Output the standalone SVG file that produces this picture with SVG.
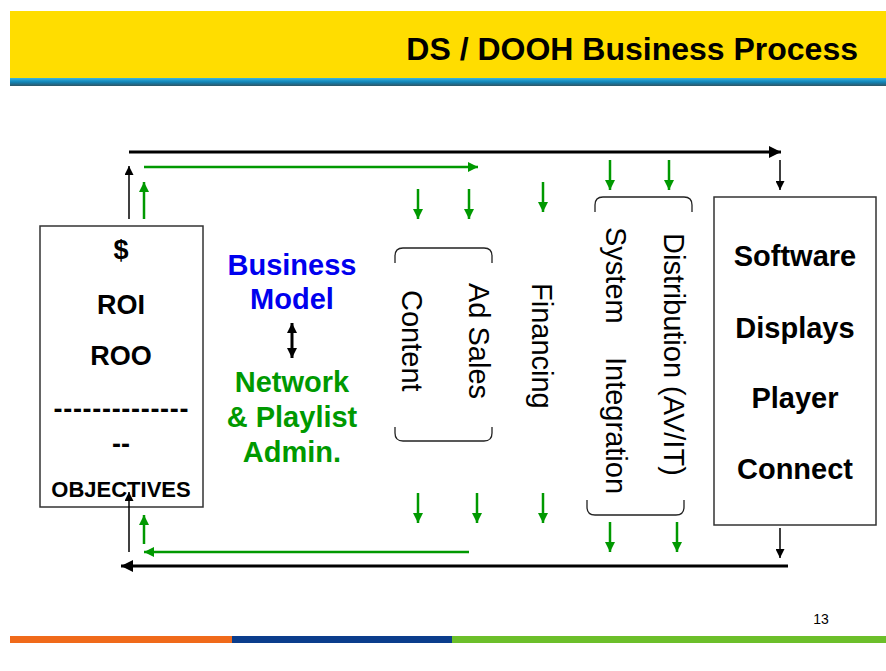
<svg xmlns="http://www.w3.org/2000/svg" width="886" height="671" viewBox="0 0 886 671">
  <defs>
    <linearGradient id="band" x1="0" y1="0" x2="0" y2="1">
      <stop offset="0" stop-color="#3bb4e0"/>
      <stop offset="0.5" stop-color="#1185b8"/>
      <stop offset="1" stop-color="#2f5666"/>
    </linearGradient>
    <marker id="hBlack" viewBox="0 0 10 10" refX="10" refY="5" markerWidth="4" markerHeight="4" orient="auto" markerUnits="strokeWidth">
      <path d="M0,0 L10,5 L0,10 z" fill="#000"/>
    </marker>
    <marker id="hThin" viewBox="0 0 10 10" refX="10" refY="5" markerWidth="6" markerHeight="6" orient="auto" markerUnits="strokeWidth">
      <path d="M0,0 L10,5 L0,10 z" fill="#000"/>
    </marker>
    <marker id="hGreen" viewBox="0 0 10 10" refX="10" refY="5" markerWidth="4" markerHeight="4" orient="auto" markerUnits="strokeWidth">
      <path d="M0,0 L10,5 L0,10 z" fill="#009900"/>
    </marker>
    <marker id="hDbl" viewBox="0 0 10 10" refX="10" refY="5" markerWidth="3.4" markerHeight="3.4" orient="auto-start-reverse" markerUnits="strokeWidth">
      <path d="M0,0 L10,5 L0,10 z" fill="#000"/>
    </marker>
  </defs>
  <style>
    .box { fill: #fff; stroke: #333; stroke-width: 1.5; }
    .brk { fill: none; stroke: #222; stroke-width: 1.3; }
    .lblk { font-family: "Liberation Sans", Arial, sans-serif; font-weight: bold; fill: #000; text-anchor: middle; }
    .rot { font-family: "Liberation Sans", Arial, sans-serif; font-size: 29px; fill: #000; }
    .mid { font-family: "Liberation Sans", Arial, sans-serif; font-weight: bold; font-size: 29px; text-anchor: middle; }
    .blk { stroke: #000; fill: none; }
    .grn { stroke: #009900; fill: none; }
  </style>

  <rect width="886" height="671" fill="#fff"/>

  <!-- header band -->
  <g id="header">
    <rect x="10" y="11" width="876" height="67" fill="#ffdd00"/>
    <rect x="10" y="78" width="876" height="8" fill="url(#band)"/>
    <text x="858" y="60" text-anchor="end" font-family="'Liberation Sans', Arial, sans-serif" font-weight="bold" font-size="32" fill="#000">DS / DOOH Business Process</text>
  </g>

  <!-- footer -->
  <g id="footer">
    <rect x="10" y="636" width="222" height="7" fill="#f06a1a"/>
    <rect x="232" y="636" width="220" height="7" fill="#0b3d8c"/>
    <rect x="452" y="636" width="434" height="7" fill="#6cbf2a"/>
    <text x="821" y="624" text-anchor="middle" font-family="'Liberation Sans', Arial, sans-serif" font-size="14" fill="#000">13</text>
  </g>

  <!-- objectives box -->
  <g id="objectives">
    <rect class="box" x="40" y="226" width="163" height="281"/>
    <text class="lblk" x="121" y="259" font-size="27">$</text>
    <text class="lblk" x="121" y="314" font-size="27">ROI</text>
    <text class="lblk" x="121" y="365" font-size="27">ROO</text>
    <text class="lblk" x="121" y="418" font-size="27" textLength="135" lengthAdjust="spacing">--------------</text>
    <text class="lblk" x="121" y="453" font-size="27">--</text>
    <text class="lblk" x="121" y="497" font-size="22">OBJECTIVES</text>
  </g>

  <!-- business model / network admin -->
  <g id="business-model">
    <text class="mid" x="292" y="275" fill="#0000ee">Business</text>
    <text class="mid" x="292" y="309" fill="#0000ee">Model</text>
    <line x1="292" y1="323" x2="292" y2="358" stroke="#000" stroke-width="3" marker-start="url(#hDbl)" marker-end="url(#hDbl)"/>
    <text class="mid" x="292" y="392" fill="#009900">Network</text>
    <text class="mid" x="292" y="427" fill="#009900">&amp; Playlist</text>
    <text class="mid" x="292" y="462" fill="#009900">Admin.</text>
  </g>

  <!-- content / ad sales -->
  <g id="content-adsales">
    <path class="brk" d="M395,263 L395,256 Q395,248 403,248 L484,248 Q492,248 492,256 L492,263"/>
    <path class="brk" d="M395,427 L395,433 Q395,441 403,441 L484,441 Q492,441 492,433 L492,427"/>
    <text class="rot" transform="translate(402,290) rotate(90)">Content</text>
    <text class="rot" transform="translate(469,283) rotate(90)">Ad Sales</text>
  </g>

  <!-- financing -->
  <g id="financing">
    <text class="rot" transform="translate(532,283) rotate(90)">Financing</text>
  </g>

  <!-- system integration / distribution -->
  <g id="integration-distribution">
    <path class="brk" d="M595,212 L595,205 Q595,197 603,197 L684,197 Q692,197 692,205 L692,212"/>
    <path class="brk" d="M587,500 L587,507 Q587,515 595,515 L676,515 Q684,515 684,507 L684,500"/>
    <text class="rot" transform="translate(606,227) rotate(90)"><tspan x="0">System</tspan><tspan x="130">Integration</tspan></text>
    <text class="rot" transform="translate(664,233) rotate(90)">Distribution (AV/IT)</text>
  </g>

  <!-- hardware box -->
  <g id="hardware">
    <rect class="box" x="714" y="197" width="162" height="328"/>
    <text class="lblk" x="795" y="266" font-size="29">Software</text>
    <text class="lblk" x="795" y="338" font-size="29">Displays</text>
    <text class="lblk" x="795" y="408" font-size="29">Player</text>
    <text class="lblk" x="795" y="479" font-size="29">Connect</text>
  </g>

  <!-- connectors -->
  <g id="connectors">
    <!-- outer black loop -->
    <line class="blk" x1="129" y1="152" x2="781" y2="152" stroke-width="3" marker-end="url(#hBlack)"/>
    <line class="blk" x1="780" y1="160" x2="780" y2="190" stroke-width="1.5" marker-end="url(#hThin)"/>
    <line class="blk" x1="780" y1="528" x2="780" y2="558" stroke-width="1.5" marker-end="url(#hThin)"/>
    <line class="blk" x1="788" y1="566" x2="121" y2="566" stroke-width="3" marker-end="url(#hBlack)"/>
    <line class="blk" x1="129" y1="552" x2="129" y2="492" stroke-width="1.5" marker-end="url(#hThin)"/>
    <line class="blk" x1="129" y1="219" x2="129" y2="166" stroke-width="1.5" marker-end="url(#hThin)"/>

    <!-- inner green loop -->
    <line class="grn" x1="144" y1="167" x2="478" y2="167" stroke-width="2.5" marker-end="url(#hGreen)"/>
    <line class="grn" x1="144" y1="219" x2="144" y2="182" stroke-width="2.5" marker-end="url(#hGreen)"/>
    <line class="grn" x1="469" y1="552" x2="144" y2="552" stroke-width="2.5" marker-end="url(#hGreen)"/>
    <line class="grn" x1="144" y1="544" x2="144" y2="515" stroke-width="2.5" marker-end="url(#hGreen)"/>

    <!-- green feeds, top -->
    <line class="grn" x1="418" y1="189" x2="418" y2="219" stroke-width="2.5" marker-end="url(#hGreen)"/>
    <line class="grn" x1="469" y1="189" x2="469" y2="219" stroke-width="2.5" marker-end="url(#hGreen)"/>
    <line class="grn" x1="543" y1="182" x2="543" y2="212" stroke-width="2.5" marker-end="url(#hGreen)"/>
    <line class="grn" x1="610" y1="160" x2="610" y2="190" stroke-width="2.5" marker-end="url(#hGreen)"/>
    <line class="grn" x1="669" y1="160" x2="669" y2="190" stroke-width="2.5" marker-end="url(#hGreen)"/>

    <!-- green feeds, bottom -->
    <line class="grn" x1="418" y1="493" x2="418" y2="523" stroke-width="2.5" marker-end="url(#hGreen)"/>
    <line class="grn" x1="477" y1="493" x2="477" y2="523" stroke-width="2.5" marker-end="url(#hGreen)"/>
    <line class="grn" x1="543" y1="493" x2="543" y2="523" stroke-width="2.5" marker-end="url(#hGreen)"/>
    <line class="grn" x1="610" y1="522" x2="610" y2="552" stroke-width="2.5" marker-end="url(#hGreen)"/>
    <line class="grn" x1="677" y1="522" x2="677" y2="552" stroke-width="2.5" marker-end="url(#hGreen)"/>
  </g>
</svg>
